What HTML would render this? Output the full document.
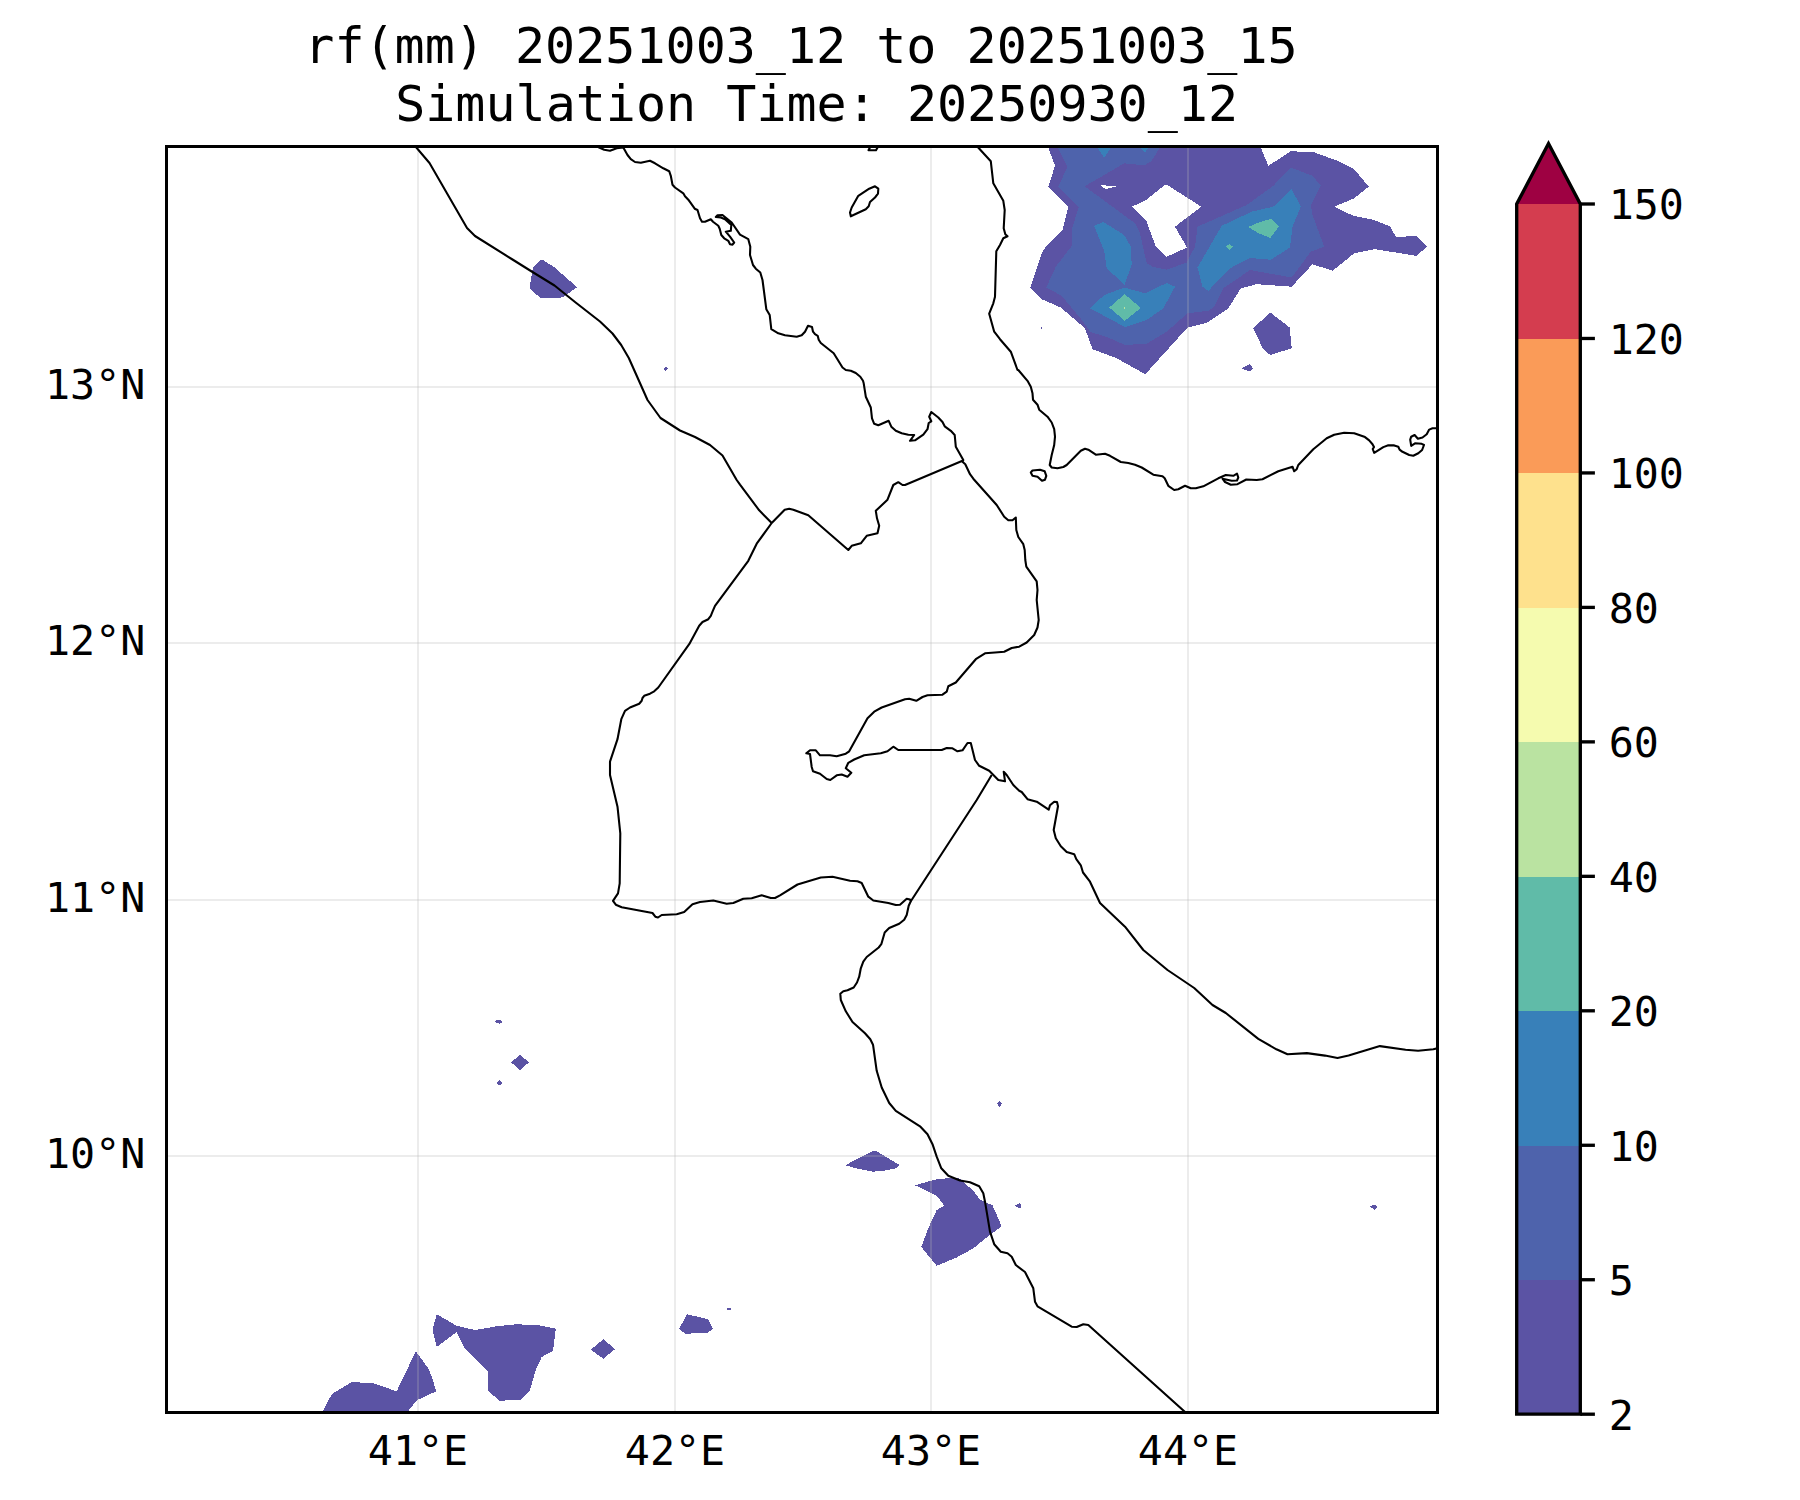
<!DOCTYPE html>
<html lang="en"><head><meta charset="utf-8"><title>rf(mm) 20251003_12 to 20251003_15</title>
<style>
html,body{margin:0;padding:0;background:#fff}
body{width:1800px;height:1500px;overflow:hidden}
svg{display:block}
text{font-family:"DejaVu Sans Mono", "Liberation Mono", monospace;fill:#000}
.t{font-size:50px}
.l{font-size:41.67px}
.c{fill:none;stroke:#000;stroke-width:2.08;stroke-linejoin:round;stroke-linecap:butt}
.g{stroke:rgb(180,180,180);stroke-opacity:.26;stroke-width:2;fill:none}
</style></head><body>
<svg width="1800" height="1500" viewBox="0 0 1800 1500">
<rect width="1800" height="1500" fill="#fff"/>
<defs><clipPath id="ax"><rect x="166.5" y="146.4" width="1271" height="1266"/></clipPath></defs>
<g clip-path="url(#ax)">
<g id="fills" shape-rendering="crispEdges">
<path fill="#5b53a4" fill-rule="evenodd" d="M1048.3 145L1048.3 147.5L1055 165.8L1048.3 186.7L1068.3 206.7L1062.5 230L1045.8 246.7L1041.7 253.3L1030.3 287.5L1041.7 299.2L1060.8 307.5L1085 328.3L1092.5 349.2L1116.7 358.3L1145.3 374.2L1187.5 327.5L1207.5 322.5L1228.3 308.3L1240.8 288.3L1256.7 284.2L1291.7 286.7L1312.5 264.2L1332.5 270.8L1354.2 253.3L1375 249.2L1416.3 255.8L1427 246.7L1416.7 236.3L1395.8 236.7L1390 226.3L1373.3 219.7L1353.3 215.8L1334.2 206.7L1354.2 198.3L1368.7 186.7L1354.2 169.2L1337.5 160.8L1313.3 152L1290.8 151.3L1268.3 165.8L1260.8 147.5L1260.8 145ZM1131.7 206.7L1145 200.8L1165 184.7L1166.7 184.7L1201.3 206.7L1175 226.7L1187 247.5L1166.7 256.7L1155.8 246.7L1146.3 220.8ZM1100.5 185.3L1118.3 186L1105.8 189.2Z"/>
<path fill="#4e63ac" fill-rule="evenodd" d="M1057.5 145L1057.5 147.5L1067.5 166.7L1058.3 186.7L1078.7 207L1071.7 230L1072.5 245L1055.8 266.7L1046.3 287.5L1061.7 295.8L1083.3 321.7L1090 331.7L1110 338.3L1125 345L1146.7 343.7L1166.7 331.7L1187.5 313.3L1208.3 310.8L1214.2 306.7L1223.3 288.3L1250 270L1291.7 277.5L1310.8 251.7L1324.2 246.7L1312.5 215L1310.8 205L1320.8 185.8L1312.5 175.8L1290.8 167.5L1273.3 185.8L1246.7 205L1197.5 226.7L1195 246.7L1186.7 262.5L1166.7 269.7L1153.3 267L1146.7 263.3L1140 233.3L1135 223.3L1084.7 186.3L1124.2 163.3L1144.2 165.3L1151.7 160.8L1160 147.5L1160 145Z"/>
<path fill="#3880b9" fill-rule="evenodd" d="M1095.8 145L1104.2 158L1112.5 145Z"/>
<path fill="#3880b9" fill-rule="evenodd" d="M1136.7 145L1145 152.5L1150 145Z"/>
<path fill="#3880b9" fill-rule="evenodd" d="M1094.2 225.8L1103.3 222L1124.2 235L1130.8 246.7L1131.7 264.2L1124.7 284.7L1106.7 268.3L1104.2 250.8Z"/>
<path fill="#3880b9" fill-rule="evenodd" d="M1090 308.3L1104.2 295L1124.2 287.5L1145 293.3L1166.7 283L1175 286.7L1163.3 308.3L1146.7 320L1125 327Z"/>
<path fill="#3880b9" fill-rule="evenodd" d="M1197.5 267.5L1221.7 225.8L1251.7 211.7L1273.3 206.7L1291.7 189.2L1300.8 206.7L1292.5 226.7L1290 247.5L1270.8 259.7L1250 258L1230 268.3L1208.3 290.8L1202.5 286.7Z"/>
<path fill="#60bba8" fill-rule="evenodd" d="M1109.2 307.5L1124.7 294.2L1140.8 308L1124.7 320.8Z"/>
<path fill="#bae3a1" fill-rule="evenodd" d="M1124 306.7L1125 306.7L1125 309L1124 309Z"/>
<path fill="#60bba8" fill-rule="evenodd" d="M1248 227L1256.7 223.3L1270.8 218.8L1278.8 226.7L1270.3 238L1258.3 233Z"/>
<path fill="#60bba8" fill-rule="evenodd" d="M1225.8 246.7L1229.2 244.2L1233 246.7L1229.2 250Z"/>
<path fill="#5b53a4" fill-rule="evenodd" d="M1253 328.3L1270.3 312.5L1289.7 327.5L1291.7 348.3L1270.3 355L1263.3 349.2Z"/>
<path fill="#5b53a4" fill-rule="evenodd" d="M1241.3 368.3L1249.7 364.2L1253 368.3L1250 371.7Z"/>
<path fill="#5b53a4" fill-rule="evenodd" d="M845 1165.3L873.3 1150.8L876.7 1151.3L899.7 1165L896.7 1168L886.7 1170.3L873.3 1171.7L860 1169.2Z"/>
<path fill="#5b53a4" fill-rule="evenodd" d="M915 1185.3L936.7 1179.2L958.3 1177.5L973.3 1190.8L980 1199.7L992.5 1205.3L1001.7 1226.3L986.7 1237.5L973.3 1248.3L956.7 1257.5L936.7 1265.8L921.3 1247L928.3 1228.3L936.7 1210L944.2 1205.5L936.7 1195.8L928.3 1191.7Z"/>
<path fill="#5b53a4" fill-rule="evenodd" d="M997 1103.8L999.5 1101.3L1002 1103.8L999.5 1106.7Z"/>
<path fill="#5b53a4" fill-rule="evenodd" d="M1014.2 1205.3L1020 1203.3L1021.7 1205.8L1020 1208.7Z"/>
<path fill="#5b53a4" fill-rule="evenodd" d="M321.7 1416.7L323.3 1410.8L331.7 1394.2L351.7 1382L373.3 1383.3L396.7 1391.3L415.8 1351.3L428.3 1368.3L431.7 1376.7L436.3 1391.3L416.7 1400.3L408.3 1410.8L405 1416.7Z"/>
<path fill="#5b53a4" fill-rule="evenodd" d="M436.7 1314.2L456.7 1325.8L475 1330L496.7 1326.3L516.7 1324.2L540 1325.5L555.8 1328.7L553 1350.8L541.7 1357L535.8 1370L530 1390L520.8 1399.7L499.2 1400.8L488.3 1390.8L487.5 1370.8L465 1348.7L456.7 1332L436.7 1347L432.5 1330Z"/>
<path fill="#5b53a4" fill-rule="evenodd" d="M590.8 1349.7L603.3 1339.2L615 1349.2L603.3 1358.7Z"/>
<path fill="#5b53a4" fill-rule="evenodd" d="M679.2 1328.7L687 1314.2L708 1319.2L713 1328.7L707.5 1333L685 1333.7Z"/>
<path fill="#5b53a4" fill-rule="evenodd" d="M727 1308L730.8 1308L730.8 1310L727 1310Z"/>
<path fill="#5b53a4" fill-rule="evenodd" d="M495 1021.5L496.3 1020L501 1020L502.1 1021.5L501.9 1022.8L499.7 1023.9L496.3 1022.7Z"/>
<path fill="#5b53a4" fill-rule="evenodd" d="M511 1062.3L520 1054.8L529 1062.3L520 1070Z"/>
<path fill="#5b53a4" fill-rule="evenodd" d="M497 1082.7L499.5 1079.9L502 1082.7L501 1084.8L498 1084.8Z"/>
<path fill="#5b53a4" fill-rule="evenodd" d="M540.5 260L542.8 260L554 267L577 287.2L564 296.5L560.5 297.9L540.2 297.9L530.1 288.8L530.1 284.2L532 272.5L533.1 267.2Z"/>
<path fill="#5b53a4" fill-rule="evenodd" d="M1370 1206.4L1372.2 1205.1L1375.8 1205.1L1377.1 1206.7L1376.7 1208.1L1374.4 1210L1373.1 1208.1L1371.4 1207.8Z"/>
<path fill="#5b53a4" fill-rule="evenodd" d="M1040.5 328.3L1041.5 327.3L1042.5 328.3L1041.5 329.3Z"/>
<path fill="#5b53a4" fill-rule="evenodd" d="M663.8 368.8L665.8 366.6L668 368.8L665.8 371Z"/>
</g>
<g class="g"><path d="M418 146.4V1412.4"/><path d="M675 146.4V1412.4"/><path d="M931 146.4V1412.4"/><path d="M1188 146.4V1412.4"/><path d="M166.5 387H1437.5"/><path d="M166.5 643H1437.5"/><path d="M166.5 900H1437.5"/><path d="M166.5 1156H1437.5"/></g>
<g id="coast" class="c">
<path d="M597.5 146.7L604.2 149.7L610 150.8L616.7 148.3L623.3 147.5L627.5 155L630.8 159.2L635 162L640.8 162.8L650 160.8L655 163.3L663.3 168.3L669.2 171.2L670.8 175.8L672.5 184.7L675 187.5L683.3 193.3L685 196.3L688.3 199.7L693.3 206.7L694.7 208.7L697.5 210L700 218.3L702 221.7L705 221.7L710.8 219.2L713 221.7L718.3 225.8L719.7 228.7L721.3 235L724.2 238.3L728.3 240.8L730 244.2L732.5 244.7L734.2 242.5L730 236.7L725.8 231.7L730.8 230.8L731.3 225L725 219.2L720.8 217.5L715.8 217L717.5 215.3L722.5 215L731.7 222.5L740 234.7L748.3 239.2L750.3 246.7L750 255L753 265L755.8 268.7L760.3 272.5L762.5 280L766.3 309.2L769.7 315L771.3 329.2L778.3 333.3L785 335.3L796.7 336.7L801.7 335.3L805 331.7L808 325.8L812 327L813 331.7L815 334.2L817.7 335.8L818.7 339.7L820.8 343L833.7 353.3L842.5 367.5L845.8 370L850.8 370.8L855.8 373L860.3 376.7L863 380.8L863.7 383.3L865.8 396.7L870.8 407.5L872 418.3L874.2 423.8L878.3 425.3L888.7 420.8L891.3 426.7L895.8 430.8L901.7 433.3L908.3 434.7L914.2 435L910 440.8L915 440.3L923.3 434.7L927.5 429.2L928.7 423L931.3 421.3L929.2 416.7L931.3 412L938.3 417.5L942.5 422L944.7 426.3L950.8 430.8L954.7 435L955.8 446.7L963.3 460L962.5 461.7L965.3 464.2L970 474.2L973.3 478.7L996.7 505L1004.2 516.7L1008.3 520.3L1012.5 520.3L1015.8 517.5L1016.3 530L1018.3 537L1023.3 544.2L1024.7 550L1025.3 560L1026.3 566.7L1036.7 581.3L1037.5 590L1036.7 600L1038.7 620L1037.5 627.5L1034.2 635L1026.7 642.5L1019.2 646.7L1011.7 648L1004.2 651.7L995 652.5L985 653.3L975.8 659.2L955.8 682.5L948.3 686.3L946.7 691.7L942.5 694.7L927.5 695.3L922.5 697L916.3 700.8L909.2 698.7L905 699.2L881.7 707.5L874.2 711.7L867.5 718.3L849.2 751.3L845.8 753.7L836.7 756.2L830 755.3L820 755.3L815.8 750.3L810 750.3L806.3 753.3L810 754L811.7 767L813 771.2L820 773.7L826.7 779L830.3 780L836.7 775.3L841.7 774.5L847.5 776.7L851.3 772.8L845.8 768.3L848.3 762.8L854.2 759.5L864.2 755.3L880.8 753.3L887.5 751.3L893.3 746.7L898.3 750L941.7 750L946.7 748L952.5 748.3L957.5 751.3L962.5 750.3L967.5 743L970.8 743L975 760L979.2 765.8L989.2 770.8L998.3 780L1005 781.3L1003.7 771.7L1006.7 775L1013.3 785L1019.2 790.8L1021.7 792L1027.5 799.2L1036.7 801.7L1048.7 809.7L1050 805.3L1054.2 801.7L1057 802L1058 806.3L1053.7 830L1055.8 838.3L1060.8 846.3L1066.7 852L1074.2 854.2L1076.3 859.2L1080.8 865.3L1083 872.5L1090 881.7L1100 903L1125 926.7L1143.3 950L1167.5 970L1194.2 988L1212.5 1005L1225.8 1013L1258.3 1038.9L1276.4 1049.3L1287.5 1054.2L1306.9 1053.1L1325 1055.6L1337.5 1057.9L1348.6 1055.6L1379.9 1046.1L1405.6 1049.7L1418.1 1050.7L1433.3 1049.3L1441.7 1047.2"/>
<path d="M850.8 216.3L850 212.5L851.7 207.5L858.3 195.8L869.2 188.7L875 186.3L878.3 188.7L878 193.7L875 197.5L870 202L868.7 206.3L865.8 209.2Z"/>
<path d="M868.5 150.3L870.3 146.7L878 146.7L876 150.3Z"/>
<path d="M415.5 146.5L429.5 163L467 228L475 236L512.5 259.5L532.5 272L554.5 285.5L575 302L600 321.5L612.5 333.5L621.2 345L628.8 358L637.5 377.5L647.5 400L660.5 418L680 430.5L695 437L710 445L722.5 455.5L736.7 480L740 484.7L759.2 510.3L771.7 523"/>
<path d="M962.5 460.8L905 485L902.5 485L898.3 482.2L893.3 485L887.5 499.7L875.8 510.8L877 518.3L879.2 525.8L877.5 533.3L866.7 535.8L860.8 543.3L851.7 545.8L848.3 550L808.3 515.3L793.3 509.7L789.2 508.7L784.7 509.7L771.7 523"/>
<path d="M1030.8 472.5L1032.5 470.5L1040 469.7L1044.7 471.3L1046.3 475.8L1045 479.7L1042 480.8L1037.5 476.7L1032.5 475.8Z"/>
<path d="M977.5 146.7L990.8 161.3L993.3 183.3L1003.3 200.8L1004.7 210L1003.7 228.3L1005.3 234.2L1007.5 236.2L1003.3 238.3L1000 245L996.3 251.3L995 296.7L993.3 303.3L989.2 313.7L994.2 331.7L1000 339.2L1010.8 351.7L1017.5 370L1018.3 370L1027.5 380.8L1030.8 386.7L1032.5 393.3L1033 399.7L1037.5 404.7L1039.2 409.7L1047.5 416.7L1051.7 422.5L1054.2 429.2L1055 436.7L1054.2 445L1051.7 455L1049.7 465L1051.7 467.5L1057.5 468.3L1063.3 467L1066.7 465L1080.8 450.8L1085 448.7L1088.3 449.7L1095.8 454.7L1105 453.8L1110 455.8L1120.8 462L1128.3 463L1135 464.7L1141.7 467.5L1153.3 474.7L1162.5 476.3L1164.7 478.3L1168.3 485.8L1174.2 490L1178.3 489.2L1185 485.8L1190.8 488.3L1195.8 488.3L1203.3 486.3L1218.3 478.3L1225.8 475L1233.3 475.8L1237 473.7L1238.3 477.5L1237 480.5L1231.7 480.8L1222.5 478.7L1225 482L1230.8 484.7L1237.5 484.2L1246.3 479.5L1256.7 480L1262.5 479.2L1278.3 471.3L1292.5 466.7L1294.2 471.3L1296.7 469.2L1298.3 465L1313.3 449.2L1326.7 438.3L1334.2 434.7L1344.2 432.7L1354.2 433.2L1365 437.1L1369.2 440.4L1372.5 444.2L1374 447.1L1372.7 449L1374.2 452.9L1383.3 447.1L1388.3 445.2L1394.2 445.4L1398.3 446.7L1399.6 449.6L1402.5 451.8L1409.2 455L1413.3 455.8L1418.3 453.3L1422.1 450L1424 445L1421.7 443.8L1415 443.3L1411.2 445.8L1410.2 439.6L1411.2 436.7L1414.6 435L1417.9 438.8L1422.5 437.5L1426.7 434.2L1429.2 429.6L1432.5 428.3L1438.3 428.2"/>
<path d="M771.7 523L756.7 543.7L748.3 560.8L715 605.8L712.5 611.7L710.8 615.8L708.3 619.2L702.5 622L699.2 625.8L689.2 644.2L658.3 687.5L654.2 691.3L650 693.7L644.2 695.8L642.5 698L641.7 700.8L639.2 703.7L630 707.5L625 710.8L621.3 719.2L617.5 739.2L610 761.7L610 775L617.5 806.7L620.3 833.3L619.7 883.3L618 893.3L613 900.8L615.8 904.7L621.7 907.2L652.5 913L655.3 916.7L658 917.5L661.7 915L676.7 914.2L684.2 912L692.5 904.2L700 902L713.3 900.5L726.7 903.7L733.3 903L743.3 898.7L751.7 898.3L761.7 895.3L770.8 898L775 898L780 895.3L797.5 884.5L820.8 877.5L832.5 876.7L850 880.8L857.5 881.3L861.7 883L868.3 896.7L873.3 900.5L888.3 903L895.8 905L900 904.7L906.7 898.8L910 899.5L910.8 901.3L908.7 905.8L906.7 915L904.2 919.7L899.2 923.7L889.2 928L884.7 932.5L881.3 944.2L878.7 947.5L866.7 957L863.3 961.7L860.8 968.3L859.2 976.7L857 982.5L853.7 987.5L847.5 990.3L843.3 991.3L840.3 993.7L840.8 1000L845.8 1011.3L852.5 1022L865 1033.3L870.3 1039.2L873 1044.7L873.3 1046.7L876.7 1070.8L881.7 1087.5L889.2 1103L895.8 1110.8L920 1126.3L927.5 1134.2L932.5 1144.2L936.7 1156.7L941.3 1168.3L948.3 1175.8L960 1180.5L970 1182.2L979.2 1186.3L983.3 1193.3L985.3 1203.3L990 1231.7L994.2 1244.2L1000.8 1251.7L1007.5 1253.3L1011.7 1256.7L1015.8 1265L1025 1272L1033.3 1288.3L1035 1301.7L1037.5 1306.3L1071.7 1326.7L1076.7 1327L1083.3 1324.2L1088.3 1325L1187.5 1414.2"/>
<path d="M910.8 901.3L976.7 800L991.7 775"/>
</g>
</g>
<rect x="166.5" y="146.5" width="1271" height="1266" fill="none" stroke="#000" stroke-width="3"/>
<text class="t" x="801" y="63" text-anchor="middle">rf(mm) 20251003_12 to 20251003_15</text>
<text class="t" x="816.6" y="121" text-anchor="middle">Simulation Time: 20250930_12</text>
<text class="l" x="418" y="1465.3" text-anchor="middle">41°E</text>
<text class="l" x="675" y="1465.3" text-anchor="middle">42°E</text>
<text class="l" x="931" y="1465.3" text-anchor="middle">43°E</text>
<text class="l" x="1188" y="1465.3" text-anchor="middle">44°E</text>
<text class="l" x="145.3" y="398.8" text-anchor="end">13°N</text>
<text class="l" x="145.3" y="654.8" text-anchor="end">12°N</text>
<text class="l" x="145.3" y="911.8" text-anchor="end">11°N</text>
<text class="l" x="145.3" y="1167.8" text-anchor="end">10°N</text>
<g shape-rendering="crispEdges"><rect x="1516.7" y="1279.73" width="63.6" height="134.97" fill="#5b53a4"/><rect x="1516.7" y="1145.27" width="63.6" height="134.97" fill="#4e63ac"/><rect x="1516.7" y="1010.80" width="63.6" height="134.97" fill="#3880b9"/><rect x="1516.7" y="876.33" width="63.6" height="134.97" fill="#60bba8"/><rect x="1516.7" y="741.87" width="63.6" height="134.97" fill="#bae3a1"/><rect x="1516.7" y="607.40" width="63.6" height="134.97" fill="#f5fbaf"/><rect x="1516.7" y="472.93" width="63.6" height="134.97" fill="#fee18d"/><rect x="1516.7" y="338.47" width="63.6" height="134.97" fill="#fa9b58"/><rect x="1516.7" y="204.00" width="63.6" height="134.97" fill="#d43d4f"/></g>
<path d="M1516.7 204L1548.5 143.49L1580.3 204Z" fill="#9e0142"/>
<path d="M1516.7 1414.2V204L1548.5 143.49L1580.3 204V1414.2Z" fill="none" stroke="#000" stroke-width="3.33" stroke-linejoin="miter" stroke-miterlimit="10"/>
<path d="M1580.3 1414.20H1594.9" stroke="#000" stroke-width="3.33"/><text class="l" x="1608.7" y="1429.50">2</text>
<path d="M1580.3 1279.73H1594.9" stroke="#000" stroke-width="3.33"/><text class="l" x="1608.7" y="1295.03">5</text>
<path d="M1580.3 1145.27H1594.9" stroke="#000" stroke-width="3.33"/><text class="l" x="1608.7" y="1160.57">10</text>
<path d="M1580.3 1010.80H1594.9" stroke="#000" stroke-width="3.33"/><text class="l" x="1608.7" y="1026.10">20</text>
<path d="M1580.3 876.33H1594.9" stroke="#000" stroke-width="3.33"/><text class="l" x="1608.7" y="891.63">40</text>
<path d="M1580.3 741.87H1594.9" stroke="#000" stroke-width="3.33"/><text class="l" x="1608.7" y="757.17">60</text>
<path d="M1580.3 607.40H1594.9" stroke="#000" stroke-width="3.33"/><text class="l" x="1608.7" y="622.70">80</text>
<path d="M1580.3 472.93H1594.9" stroke="#000" stroke-width="3.33"/><text class="l" x="1608.7" y="488.23">100</text>
<path d="M1580.3 338.47H1594.9" stroke="#000" stroke-width="3.33"/><text class="l" x="1608.7" y="353.77">120</text>
<path d="M1580.3 204.00H1594.9" stroke="#000" stroke-width="3.33"/><text class="l" x="1608.7" y="219.30">150</text>
</svg>
</body></html>
